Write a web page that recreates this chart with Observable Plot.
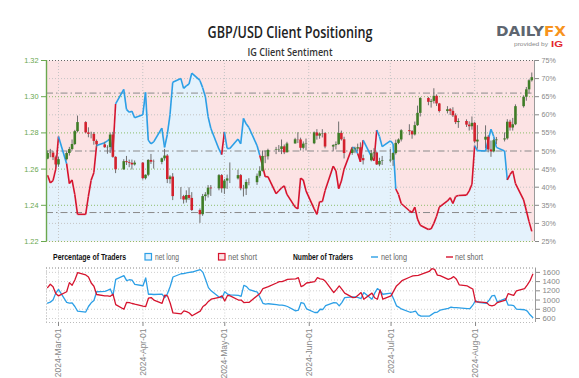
<!DOCTYPE html>
<html><head><meta charset="utf-8">
<script src="https://cdn.jsdelivr.net/npm/d3@7"></script>
<script src="https://cdn.jsdelivr.net/npm/@observablehq/plot@0.6"></script>
<style>
html,body{margin:0;padding:0;background:#fff;}
#wrap{position:relative;width:579px;height:378px;overflow:hidden;font-family:"Liberation Sans",Arial,sans-serif;}
#wrap svg.plot{display:block;}
#overlay{position:absolute;left:0;top:0;}
</style></head><body><div id="wrap"></div>
<script>
// ---------- data ----------
const dates = ["2024-02-26","2024-02-27","2024-02-28","2024-02-29",
"2024-03-01","2024-03-04","2024-03-05","2024-03-06","2024-03-07","2024-03-08","2024-03-11","2024-03-12","2024-03-13","2024-03-14","2024-03-15","2024-03-18","2024-03-19","2024-03-20","2024-03-21","2024-03-22","2024-03-25","2024-03-26","2024-03-27","2024-03-28","2024-03-29",
"2024-04-01","2024-04-02","2024-04-03","2024-04-04","2024-04-05","2024-04-08","2024-04-09","2024-04-10","2024-04-11","2024-04-12","2024-04-15","2024-04-16","2024-04-17","2024-04-18","2024-04-19","2024-04-22","2024-04-23","2024-04-24","2024-04-25","2024-04-26","2024-04-29","2024-04-30",
"2024-05-01","2024-05-02","2024-05-03","2024-05-06","2024-05-07","2024-05-08","2024-05-09","2024-05-10","2024-05-13","2024-05-14","2024-05-15","2024-05-16","2024-05-17","2024-05-20","2024-05-21","2024-05-22","2024-05-23","2024-05-24","2024-05-27","2024-05-28","2024-05-29","2024-05-30","2024-05-31",
"2024-06-03","2024-06-04","2024-06-05","2024-06-06","2024-06-07","2024-06-10","2024-06-11","2024-06-12","2024-06-13","2024-06-14","2024-06-17","2024-06-18","2024-06-19","2024-06-20","2024-06-21","2024-06-24","2024-06-25","2024-06-26","2024-06-27","2024-06-28",
"2024-07-01","2024-07-02","2024-07-03","2024-07-04","2024-07-05","2024-07-08","2024-07-09","2024-07-10","2024-07-11","2024-07-12","2024-07-15","2024-07-16","2024-07-17","2024-07-18","2024-07-19","2024-07-22","2024-07-23","2024-07-24","2024-07-25","2024-07-26","2024-07-29","2024-07-30","2024-07-31",
"2024-08-01","2024-08-02","2024-08-05","2024-08-06","2024-08-07","2024-08-08","2024-08-09","2024-08-12","2024-08-13","2024-08-14","2024-08-15","2024-08-16","2024-08-19","2024-08-20","2024-08-21","2024-08-22"];

// % of IG clients net long
const pctLong = [43.3,41.2,41.8,45.0,
54.0,46.5,41.0,42.0,38.0,32.5,32.5,37.5,41.9,44.0,51.5,52.3,52.8,53.4,49.5,63.0,67.0,61.5,60.7,61.0,59.2,
60.0,66.2,53.0,52.0,52.5,56.3,51.0,54.5,60.0,69.0,70.0,67.3,68.0,68.5,71.5,69.5,67.5,65.0,59.5,56.3,50.5,49.0,
55.3,50.7,50.7,53.3,52.0,59.0,57.5,56.5,51.5,48.8,46.0,42.9,42.9,38.2,39.0,39.8,40.4,38.0,34.5,34.0,42.5,42.0,39.0,
34.0,32.5,36.0,36.0,39.0,45.8,44.5,39.6,41.7,45.0,51.0,50.8,49.3,47.0,53.0,48.5,47.3,55.8,54.0,51.2,
52.8,52.0,39.5,38.0,35.5,33.5,33.0,34.5,31.2,29.5,28.3,28.5,30.0,32.0,34.5,36.2,37.1,35.5,37.4,37.7,37.8,39.0,40.8,
51.5,50.1,50.0,53.0,56.0,54.0,51.0,50.0,42.0,43.5,44.5,41.0,36.5,33.5,30.5,27.8];

// GBP/USD daily candles
const firstOpen = 1.2655;
const close = [1.2686,1.2688,1.2663,1.2623,
1.2652,1.2686,1.2708,1.2736,1.2807,1.2857,1.2800,1.2792,1.2792,1.2753,1.2734,1.2718,1.2719,1.2788,1.2665,1.2596,1.2641,1.2636,1.2632,1.2623,1.2633,
1.2547,1.2566,1.2648,1.2638,1.2637,1.2657,1.2672,1.2542,1.2556,1.2448,1.2448,1.2429,1.2454,1.2438,1.2371,1.2348,1.2448,1.2457,1.2495,1.2491,1.2564,1.2491,
1.2534,1.2546,1.2546,1.2564,1.2491,1.2490,1.2526,1.2525,1.2560,1.2588,1.2670,1.2668,1.2703,1.2706,1.2708,1.2723,1.2690,1.2739,1.2762,1.2761,1.2715,1.2738,1.2740,
1.2800,1.2782,1.2794,1.2796,1.2722,1.2730,1.2735,1.2797,1.2762,1.2686,1.2707,1.2711,1.2718,1.2658,1.2646,1.2685,1.2689,1.2623,1.2642,1.2645,
1.2649,1.2686,1.2742,1.2761,1.2812,1.2807,1.2789,1.2840,1.2908,1.2990,1.2969,1.2974,1.3002,1.2960,1.2918,1.2928,1.2919,1.2894,1.2857,1.2863,1.2843,1.2834,1.2853,
1.2750,1.2760,1.2776,1.2706,1.2695,1.2757,1.2761,1.2767,1.2859,1.2827,1.2845,1.2945,1.2997,1.3038,1.3088,1.3105];
const high = [1.2700,1.2709,1.2698,1.2672,
1.2665,1.2695,1.2720,1.2761,1.2814,1.2893,1.2862,1.2828,1.2804,1.2802,1.2761,1.2748,1.2729,1.2800,1.2803,1.2668,1.2652,1.2670,1.2650,1.2650,1.2645,
1.2636,1.2568,1.2652,1.2681,1.2650,1.2661,1.2709,1.2680,1.2563,1.2575,1.2498,1.2455,1.2480,1.2497,1.2470,1.2380,1.2460,1.2470,1.2509,1.2509,1.2570,1.2570,
1.2543,1.2567,1.2634,1.2594,1.2570,1.2510,1.2540,1.2547,1.2573,1.2613,1.2700,1.2700,1.2710,1.2720,1.2730,1.2761,1.2733,1.2748,1.2770,1.2801,1.2771,1.2750,1.2766,
1.2805,1.2818,1.2798,1.2818,1.2801,1.2735,1.2750,1.2860,1.2810,1.2776,1.2720,1.2721,1.2738,1.2745,1.2677,1.2703,1.2713,1.2694,1.2660,1.2670,
1.2710,1.2690,1.2760,1.2767,1.2818,1.2845,1.2813,1.2860,1.2948,1.2995,1.2996,1.2985,1.3044,1.3010,1.2963,1.2945,1.2935,1.2939,1.2905,1.2878,1.2872,1.2861,1.2888,
1.2859,1.2840,1.2839,1.2785,1.2755,1.2765,1.2775,1.2800,1.2873,1.2870,1.2880,1.2955,1.3005,1.3051,1.3094,1.3131];
const low = [1.2652,1.2663,1.2647,1.2611,
1.2610,1.2645,1.2672,1.2700,1.2730,1.2800,1.2795,1.2773,1.2767,1.2732,1.2717,1.2715,1.2682,1.2686,1.2660,1.2575,1.2593,1.2620,1.2608,1.2595,1.2617,
1.2539,1.2540,1.2558,1.2626,1.2600,1.2624,1.2644,1.2520,1.2517,1.2426,1.2431,1.2407,1.2412,1.2427,1.2366,1.2300,1.2339,1.2423,1.2440,1.2449,1.2480,1.2467,
1.2460,1.2488,1.2520,1.2540,1.2480,1.2446,1.2454,1.2508,1.2510,1.2550,1.2584,1.2630,1.2650,1.2680,1.2693,1.2680,1.2680,1.2690,1.2738,1.2741,1.2700,1.2706,1.2700,
1.2735,1.2760,1.2765,1.2772,1.2712,1.2695,1.2706,1.2732,1.2755,1.2656,1.2676,1.2685,1.2695,1.2655,1.2623,1.2640,1.2663,1.2620,1.2613,1.2620,
1.2636,1.2615,1.2678,1.2735,1.2750,1.2785,1.2765,1.2783,1.2836,1.2888,1.2950,1.2937,1.2960,1.2946,1.2910,1.2905,1.2896,1.2885,1.2846,1.2825,1.2830,1.2810,1.2815,
1.2740,1.2710,1.2712,1.2690,1.2665,1.2690,1.2735,1.2750,1.2760,1.2810,1.2810,1.2840,1.2937,1.2975,1.3015,1.3081];

// Number of traders
const shortCount = [1270,1342,1290,1140,
1090,1180,1378,1320,1436,1594,1544,1500,1370,1300,1120,1090,1090,1080,1126,900,800,950,945,925,910,
870,860,1040,1054,1000,930,1104,1090,930,720,700,766,750,720,660,760,860,900,970,1018,1060,1090,
980,1100,1090,1000,1000,946,950,950,1100,1150,1250,1270,1290,1370,1400,1400,1420,1450,1460,1486,1292,1320,1370,
1400,1486,1460,1450,1400,1162,1230,1306,1230,1150,1054,1060,1110,1162,1018,1150,1050,1018,1220,1018,
1090,1198,1306,1360,1420,1500,1522,1530,1536,1555,1620,1680,1665,1540,1530,1450,1470,1508,1450,1330,1306,1270,1240,
960,960,946,890,874,890,946,1000,1140,1120,1100,1198,1248,1330,1420,1560];
const longCount = [932,955,1000,1150,
1230,950,935,940,860,760,740,860,940,990,1180,1190,1210,1240,1100,1450,1530,1420,1440,1430,1340,
1310,1480,1126,1126,1120,1130,1054,1140,1300,1500,1570,1575,1590,1600,1608,1660,1600,1440,1270,1200,1060,1050,
1180,1130,1110,1100,1080,1320,1290,1225,1170,1050,930,910,920,900,890,890,880,860,766,780,946,930,810,
730,730,800,795,880,946,940,874,950,1054,1068,1068,1050,1032,1162,1018,1150,1248,1200,1126,
1148,1018,874,840,802,735,744,760,680,650,650,690,730,740,780,820,845,835,835,830,816,816,888,
990,950,930,1000,1090,1100,960,1032,888,888,880,802,790,760,680,620];

// scales / ticks
const priceDomain = [1.22, 1.32];
const pctDomain = [25, 75];
const priceTicks = [1.22, 1.24, 1.26, 1.28, 1.30, 1.32];
const pctTicks = [25, 30, 35, 40, 45, 50, 55, 60, 65, 70, 75];
const greenGrid = [1.22, 1.24, 1.26, 1.28, 1.30];
const grayGrid = [1.23, 1.25, 1.29, 1.31];
const refLevels = [66, 50, 33];
const countTicks = [600, 800, 1000, 1200, 1400, 1600];
const countDomain = [513, 1695];
const monthTicks = ["2024-03-01","2024-04-01","2024-05-01","2024-06-01","2024-07-01","2024-08-01"];
const xStart = "2024-02-25T14:24Z", xEnd = "2024-08-23T00:00Z";

// ---------- build ----------
const PINK = "#fce3e4", LBLUE = "#e4f2fc", BLUE = "#2c9fe6", RED = "#d6142e",
      CGREEN = "#3f7d27", CRED = "#d3212d", AXGREEN = "#6aa84f";
const parse = d3.utcParse("%Y-%m-%d");
const rows = dates.map((d, i) => ({
  date: parse(d), pct: pctLong[i],
  open: i ? close[i - 1] : firstOpen, high: high[i], low: low[i], close: close[i],
  nShort: shortCount[i], nLong: longCount[i]
}));
const toPrice = p => priceDomain[0] + (p - pctDomain[0]) / (pctDomain[1] - pctDomain[0]) * (priceDomain[1] - priceDomain[0]);
const toPct = v => pctDomain[0] + (v - priceDomain[0]) / (priceDomain[1] - priceDomain[0]) * (pctDomain[1] - pctDomain[0]);
const xDomain = [new Date(xStart), new Date(xEnd)];
const months = monthTicks.map(parse);
const segs = rows.slice(1).map((r, i) => ({
  x1: rows[i].date, y1: toPrice(rows[i].pct), x2: r.date, y2: toPrice(r.pct),
  side: rows[i].pct < 50 ? "short" : "long"
}));
const colorOpt = {domain: ["short", "long", "up", "down"], range: [RED, BLUE, CGREEN, CRED]};
const dotted = {strokeDasharray: "1,2"};
const FONT = "'Liberation Sans', Arial, sans-serif";

const main = Plot.plot({
  width: 579, height: 245, marginTop: 60, marginBottom: 4, marginLeft: 46, marginRight: 45,
  style: {fontFamily: FONT, fontSize: "8px", background: "transparent", overflow: "visible"},
  x: {type: "utc", domain: xDomain, axis: null},
  y: {domain: priceDomain, axis: null},
  color: colorOpt,
  marks: [
    Plot.frame({fill: PINK, stroke: null}),
    Plot.areaY(rows, {x: "date", y1: priceDomain[0], y2: d => toPrice(d.pct), fill: LBLUE}),
    Plot.ruleX(months, {stroke: "#c4c4c4", ...dotted}),
    Plot.ruleY(grayGrid, {stroke: "#c4c4c4", ...dotted}),
    Plot.ruleY(greenGrid, {stroke: "#8dbd6c", ...dotted}),
    Plot.ruleY([priceDomain[1]], {stroke: "#666", ...dotted}),
    Plot.ruleY(refLevels.map(toPrice), {stroke: "#8a8a8a", strokeDasharray: "7,3,1.5,3"}),
    Plot.link(segs, {x1: "x1", y1: "y1", x2: "x2", y2: "y2", stroke: "side", strokeWidth: 1.6}),
    Plot.ruleX(rows, {x: "date", y1: "low", y2: "high", stroke: "#6f6f6f", strokeWidth: 1}),
    Plot.ruleX(rows, {x: "date", y1: "open", y2: "close", stroke: d => d.close >= d.open ? "up" : "down", strokeWidth: 2.6}),
    Plot.ruleX([xDomain[0]], {stroke: AXGREEN, strokeWidth: 1.4}),
    Plot.ruleX([xDomain[1]], {stroke: "#9a9a9a"}),
    Plot.axisY(priceTicks, {anchor: "left", tickFormat: d3.format(".2f"), color: AXGREEN, tickSize: 5, tickPadding: 3, fontSize: 8, label: null}),
    Plot.axisY(pctTicks.map(toPrice), {anchor: "right", tickFormat: v => Math.round(toPct(v)) + "%", color: "#888", tickSize: 4, tickPadding: 3, fontSize: 7.8, label: null})
  ]
});

const lower = Plot.plot({
  width: 579, height: 133, marginTop: 22.5, marginBottom: 56, marginLeft: 46, marginRight: 44,
  style: {fontFamily: FONT, fontSize: "8px", background: "transparent", overflow: "visible"},
  x: {type: "utc", domain: xDomain, axis: null},
  y: {domain: countDomain, axis: null},
  marks: [
    Plot.ruleY(countTicks, {stroke: "#cfcfcf", ...dotted}),
    Plot.ruleX(months, {stroke: "#cfcfcf", ...dotted}),
    Plot.ruleY([countDomain[1]], {stroke: "#888", ...dotted}),
    Plot.ruleY([countDomain[0]], {stroke: "#bbb", ...dotted}),
    Plot.ruleX([xDomain[0]], {stroke: "#aaa", ...dotted}),
    Plot.line(rows, {x: "date", y: "nLong", stroke: BLUE, strokeWidth: 1.3}),
    Plot.line(rows, {x: "date", y: "nShort", stroke: RED, strokeWidth: 1.3}),
    Plot.ruleX([xDomain[1]], {stroke: "#9a9a9a"}),
    Plot.axisY(countTicks, {anchor: "right", tickFormat: d3.format("d"), color: "#888", tickSize: 4, tickPadding: 3, fontSize: 7.8, label: null}),
    Plot.axisX(months, {anchor: "bottom", tickRotate: -90, tickFormat: d3.utcFormat("%Y-%b-%d"), color: "#888", tickSize: 4, tickPadding: 2, fontSize: 8.5, label: null})
  ]
});

const wrap = document.getElementById("wrap");
wrap.appendChild(main);
wrap.appendChild(lower);

function condense(svg, sel, f) {
  svg.querySelectorAll(sel).forEach(t => {
    const L = t.getComputedTextLength();
    if (L > 0) { t.setAttribute("textLength", (L * f).toFixed(2)); t.setAttribute("lengthAdjust", "spacingAndGlyphs"); }
  });
}
condense(main, "text", 0.92);

// ---------- titles, logo, legend ----------
const NS = "http://www.w3.org/2000/svg";
const ov = document.createElementNS(NS, "svg");
ov.setAttribute("id", "overlay"); ov.setAttribute("width", 579); ov.setAttribute("height", 378);
function txt(s, x, y, o = {}) {
  const t = document.createElementNS(NS, "text");
  t.textContent = s; t.setAttribute("x", x); t.setAttribute("y", y);
  t.setAttribute("font-family", o.family || FONT);
  t.setAttribute("font-size", o.size || 8);
  if (o.weight) t.setAttribute("font-weight", o.weight);
  t.setAttribute("fill", o.fill || "#555");
  if (o.anchor) t.setAttribute("text-anchor", o.anchor);
  if (o.len) { t.setAttribute("textLength", o.len); t.setAttribute("lengthAdjust", "spacingAndGlyphs"); }
  ov.appendChild(t); return t;
}
function el(tag, attrs) {
  const e = document.createElementNS(NS, tag);
  for (const k in attrs) e.setAttribute(k, attrs[k]);
  ov.appendChild(e); return e;
}
txt("GBP/USD Client Positioning", 290, 38, {size: 15.5, fill: "#222", anchor: "middle", len: 165, family: "'Open Sans', 'Noto Sans', sans-serif", weight: 600});
txt("IG Client Sentiment", 290, 56, {size: 10.5, fill: "#333", anchor: "middle", len: 85, family: "'Open Sans', 'Noto Sans', sans-serif", weight: 600});
// logo
const logo = txt("", 496, 36, {size: 14, weight: 700, len: 70, family: "'DejaVu Sans', sans-serif"});
const tA = document.createElementNS(NS, "tspan"); tA.textContent = "DAILY"; tA.setAttribute("fill", "#5e6670");
const tB = document.createElementNS(NS, "tspan"); tB.textContent = "FX"; tB.setAttribute("fill", "#f7941d");
logo.appendChild(tA); logo.appendChild(tB);
txt("provided by", 514, 46, {size: 6, fill: "#888", len: 34});
txt("IG", 551, 47, {size: 9, weight: 700, fill: "#e3262e", len: 12});
// legend
txt("Percentage of Traders", 53, 260, {size: 8.5, weight: 700, fill: "#111", len: 73});
el("rect", {x: 145, y: 253.5, width: 6.5, height: 6.5, fill: LBLUE, stroke: BLUE, "stroke-width": 1.2});
txt("net long", 155, 260, {size: 8.5, fill: "#666", len: 24});
el("rect", {x: 218.5, y: 253.5, width: 6.5, height: 6.5, fill: PINK, stroke: RED, "stroke-width": 1.2});
txt("net short", 228, 260, {size: 8.5, fill: "#666", len: 29});
txt("Number of Traders", 293, 260, {size: 8.5, weight: 700, fill: "#111", len: 60});
el("line", {x1: 371, x2: 378, y1: 257, y2: 257, stroke: BLUE, "stroke-width": 1.4});
txt("net long", 381, 260, {size: 8.5, fill: "#666", len: 26});
el("line", {x1: 446, x2: 453, y1: 257, y2: 257, stroke: RED, "stroke-width": 1.4});
txt("net short", 455, 260, {size: 8.5, fill: "#666", len: 28});
wrap.appendChild(ov);
</script></body></html>
